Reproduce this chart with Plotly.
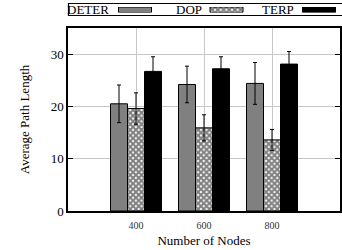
import plotly.graph_objects as go

categories = ["400", "600", "800"]
series_names = ["DETER", "DOP", "TERP"]
deter = [20.5, 24.2, 24.4]
deter_err = [3.6, 3.5, 4.0]
dop = [19.6, 15.9, 13.6]
dop_err = [3.0, 2.5, 2.0]
terp = [26.7, 27.2, 28.1]
terp_err = [2.8, 2.3, 2.4]
y_ticks = [0, 10, 20, 30]

FONT = "'Liberation Serif', 'Times New Roman', Times, serif"
W, H = 342, 250
L, R, T, B = 68, 2, 0, 39
PH = H - T - B  # paper height in px
PW = W - L - R

def py(px_from_top):
    return (H - B - px_from_top) / PH

def pxx(px):
    return (px - L) / PW

styles = [
    dict(marker=dict(color="#808080", line=dict(color="black", width=1))),
    dict(marker=dict(color="white", line=dict(color="black", width=1),
                     pattern=dict(shape="x", size=4, solidity=0.75, fgcolor="black", bgcolor="white", fillmode="overlay"))),
    dict(marker=dict(color="black", line=dict(color="black", width=1))),
]

fig = go.Figure()
for name, vals, errs, st in zip(series_names, [deter, dop, terp], [deter_err, dop_err, terp_err], styles):
    fig.add_trace(go.Bar(
        x=categories, y=vals, name=name, showlegend=False,
        error_y=dict(type="data", array=errs, color="black", thickness=1, width=2),
        **st))

# custom gnuplot-style legend (text left of swatch) drawn on a small hidden axis
swatch_centers = [135, 226.5, 319]
text_right = [111, 204, 296]
for name, cx, tr, st in zip(series_names, swatch_centers, text_right, styles):
    fig.add_trace(go.Bar(x=[cx], y=[1], width=[33], xaxis="x2", yaxis="y2",
                         showlegend=False, hoverinfo="skip", **st))
    fig.add_annotation(x=pxx(tr), y=py(9.5), xref="paper", yref="paper", text=name,
                       showarrow=False, xanchor="right", yanchor="middle",
                       font=dict(family=FONT, size=13, color="black"))

fig.add_shape(type="rect", xref="paper", yref="paper",
              x0=pxx(68.5), x1=pxx(343), y0=py(15.5), y1=py(3.5),
              line=dict(color="black", width=1.2), fillcolor="rgba(0,0,0,0)", layer="below")

main_top = py(28)
fig.update_layout(
    width=W, height=H,
    margin=dict(l=L, r=R, t=T, b=B, pad=0),
    plot_bgcolor="white", paper_bgcolor="white",
    barmode="group", bargap=0.25, bargroupgap=0,
    font=dict(family=FONT, color="black"),
    xaxis=dict(domain=[0, 1], range=[-1, 3], type="category",
               showgrid=True, gridcolor="#c8c8c8", gridwidth=1,
               showline=True, linecolor="black", linewidth=1.5, mirror=True,
               ticks="outside", ticklen=4, tickcolor="rgba(0,0,0,0)",
               tickfont=dict(size=10, color="#333"),
               title=dict(text="Number of Nodes", font=dict(size=13), standoff=6)),
    yaxis=dict(domain=[0, main_top], range=[0, 35], tickvals=y_ticks,
               showgrid=True, gridcolor="#c8c8c8", gridwidth=1, zeroline=False,
               showline=True, linecolor="black", linewidth=1.5, mirror="ticks",
               ticks="inside", ticklen=5, tickcolor="black",
               tickfont=dict(size=13),
               title=dict(text="Average Path Length", font=dict(size=13), standoff=18)),
    xaxis2=dict(domain=[0, 1], range=[L, W - R], anchor="y2", visible=False, fixedrange=True),
    yaxis2=dict(domain=[py(12.5), py(7)], range=[0, 1], anchor="x2", visible=False, fixedrange=True),
)

fig.write_html("out.html", config={"displayModeBar": False},
               post_script="document.body.style.margin='0px';document.body.style.overflow='hidden';")
